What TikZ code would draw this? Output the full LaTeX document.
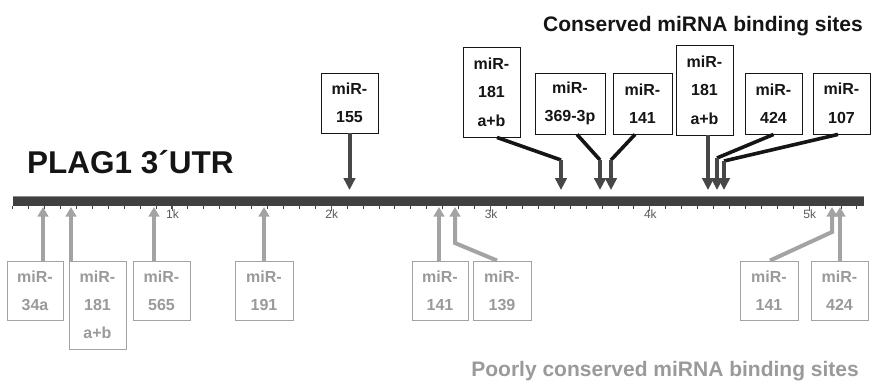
\documentclass[tikz,border=0pt]{standalone}
\usepackage{fontspec}
\setmainfont{Liberation Sans}
\usetikzlibrary{arrows.meta}
\definecolor{bardark}{HTML}{404040}
\definecolor{bartop}{HTML}{8C8C8C}
\definecolor{arrdark}{HTML}{474747}
\definecolor{linkblack}{HTML}{151515}
\definecolor{lightgr}{HTML}{A3A3A3}
\definecolor{lighttxt}{HTML}{9A9A9A}
\definecolor{ticktxt}{HTML}{5A5A5A}
\tikzset{
  cbox/.style={draw=linkblack, line width=0.9pt, fill=white, inner sep=0pt, align=center,
    text=linkblack, font=\bfseries\fontsize{16}{28.5}\selectfont},
  pbox/.style={draw=lightgr, line width=0.9pt, fill=white, inner sep=0pt, align=center,
    text=lighttxt, font=\bfseries\fontsize{16}{28}\selectfont},
  darrow/.style={draw=arrdark, line width=4pt, -{Triangle[length=12pt,width=11.5pt]}},
  blink/.style={draw=linkblack, line width=3.6pt},
  larrow/.style={draw=lightgr, line width=4pt, line join=miter, -{Triangle[length=9.5pt,width=10.5pt]}},
  ticklbl/.style={font=\fontsize{12}{12}\selectfont, text=ticktxt, inner sep=0pt, anchor=base},
}
\begin{document}
\begin{tikzpicture}[x=1pt,y=-1pt]
\useasboundingbox (0,0) rectangle (874,383);

% title and headers
\node[anchor=base west, inner sep=0pt, font=\bfseries\fontsize{31.5}{31.5}\selectfont, text=linkblack] (title) at (27,173) {PLAG1 3´UTR};
\node[anchor=base east, inner sep=0pt, font=\bfseries\fontsize{21}{21}\selectfont, text=linkblack] (hcons) at (863,31) {Conserved miRNA binding sites};
\node[anchor=base east, inner sep=0pt, font=\bfseries\fontsize{21}{21}\selectfont, text=lighttxt] (hpoor) at (859,376) {Poorly conserved miRNA binding sites};

% bar
\fill[bardark] (13,196) rectangle (864,206);
\draw[bartop, line width=1pt] (13,196.5) -- (864,196.5);
\foreach \i in {0,...,53} {
  \draw[bardark, line width=0.9pt] ({12.6+15.93*\i},206) -- ++(0,2.6);
}
\foreach \k/\lab in {1/1k,2/2k,3/3k,4/4k,5/5k} {
  \draw[ticktxt, line width=0.8pt] ({12.6+159.3*\k},206) -- ++(0,5);
  \node[ticklbl] (tk\k) at ({13.2+159.3*\k},218) {\lab};
}

% conserved boxes
\node[cbox, minimum width=57pt, minimum height=60pt] (c155) at (349.5,103) {miR-\\155};
\node[cbox, minimum width=57pt, minimum height=90pt] (c181a) at (491.5,92) {miR-\\181\\a+b};
\node[cbox, minimum width=70pt, minimum height=61pt] (c369) at (570,103.5) {miR-\\369-3p};
\node[cbox, minimum width=59pt, minimum height=61pt] (c141) at (642.5,103.5) {miR-\\141};
\node[cbox, minimum width=57pt, minimum height=90pt] (c181b) at (704.5,90) {miR-\\181\\a+b};
\node[cbox, minimum width=57pt, minimum height=61pt] (c424) at (773.5,103.5) {miR-\\424};
\node[cbox, minimum width=57pt, minimum height=61pt] (c107) at (841.5,103.5) {miR-\\107};

% conserved tips and bends
\coordinate (t155) at (349.5,190);
\coordinate (b181a) at (561,160);  \coordinate (t181a) at (561,190);
\coordinate (b369) at (600,160);   \coordinate (t369) at (600,190);
\coordinate (b141) at (611,160);   \coordinate (t141) at (611,190);
\coordinate (t181b) at (708,190);
\coordinate (b424) at (717,158);   \coordinate (t424) at (717,190);
\coordinate (b107) at (724,161);   \coordinate (t107) at (724,190);

\draw[darrow] (c155.south) -- (t155);
\draw[blink] ([xshift=5.5pt]c181a.south) -- (b181a);
\draw[darrow] (b181a) -- (t181a);
\draw[blink] ([xshift=7pt]c369.south) -- (b369);
\draw[darrow] (b369) -- (t369);
\draw[blink] ([xshift=-7.5pt]c141.south) -- (b141);
\draw[darrow] (b141) -- (t141);
\draw[darrow] (c181b.south -| t181b) -- (t181b);
\draw[blink] (c424.south) -- (b424);
\draw[darrow] (b424) -- (t424);
\draw[blink] ([xshift=-3.5pt]c107.south) -- (b107);
\draw[darrow] (b107) -- (t107);

% poorly conserved boxes
\node[pbox, minimum width=56pt, minimum height=59pt] (p34a) at (35,290.5) {miR-\\34a};
\node[pbox, minimum width=57pt, minimum height=88pt] (p181) at (97.5,305) {miR-\\181\\a+b};
\node[pbox, minimum width=57pt, minimum height=59pt] (p565) at (161.5,290.5) {miR-\\565};
\node[pbox, minimum width=58pt, minimum height=59pt] (p191) at (264,290.5) {miR-\\191};
\node[pbox, minimum width=56pt, minimum height=59pt] (p141) at (440,290.5) {miR-\\141};
\node[pbox, minimum width=58pt, minimum height=59pt] (p139) at (502,290.5) {miR-\\139};
\node[pbox, minimum width=58pt, minimum height=59pt] (p141r) at (769,290.5) {miR-\\141};
\node[pbox, minimum width=57pt, minimum height=59pt] (p424) at (839.5,290.5) {miR-\\424};

\coordinate (u34a) at (43,207);
\coordinate (u181) at (71,207);
\coordinate (u565) at (154,207);
\coordinate (u191) at (264,207);
\coordinate (u141) at (439,207);
\coordinate (k139) at (455,243); \coordinate (u139) at (455,207);
\coordinate (k141r) at (832,232); \coordinate (u141r) at (832,207);
\coordinate (u424) at (840,207);

\draw[larrow] (p34a.north -| u34a) -- (u34a);
\draw[larrow] (p181.north -| u181) -- (u181);
\draw[larrow] (p565.north -| u565) -- (u565);
\draw[larrow] (p191.north -| u191) -- (u191);
\draw[larrow] (p141.north -| u141) -- (u141);
\draw[larrow] ([xshift=-5pt]p139.north) -- (k139) -- (u139);
\draw[larrow] ([xshift=1pt]p141r.north) -- (k141r) -- (u141r);
\draw[larrow] (p424.north -| u424) -- (u424);
\end{tikzpicture}
\end{document}
